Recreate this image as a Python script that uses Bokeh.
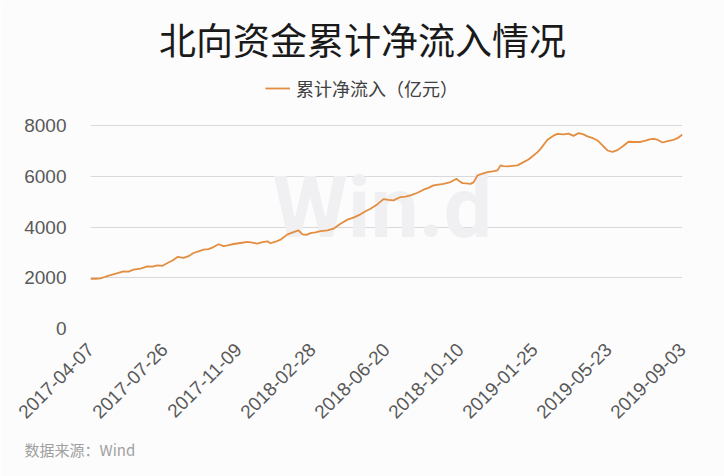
import math
from bokeh.plotting import figure
from bokeh.models import FixedTicker, Label, Legend, LegendItem, ColumnDataSource, Range1d, Title
from bokeh.embed import file_html
from bokeh.resources import INLINE

# ---------------- data ----------------
title_text = "北向资金累计净流入情况"
series_name = "累计净流入（亿元）"
source_text = "数据来源：Wind"

tick_labels = ["2017-04-07", "2017-07-26", "2017-11-09", "2018-02-28", "2018-06-20",
               "2018-10-10", "2019-01-25", "2019-05-23", "2019-09-03"]
tick_step = 74  # trading days between labelled dates

y_ticks = [0, 2000, 4000, 6000, 8000]

# trading-day index since 2017-04-07 and cumulative net inflow (100m CNY)
day_index = [0, 5, 10, 15, 20, 27, 33, 38, 43, 50, 57, 62, 67, 72, 77, 82, 87, 93, 98,
             103, 108, 113, 118, 123, 128, 133, 137, 143, 150, 157, 162, 167, 172, 177,
             180, 185, 190, 197, 203, 208, 212, 216, 220, 225, 230, 237, 243, 250, 257,
             263, 270, 275, 280, 287, 293, 298, 303, 310, 315, 320, 327, 333, 338, 343,
             348, 353, 360, 366, 369, 372, 376, 380, 383, 387, 392, 397, 402, 407, 410,
             413, 417, 422, 427, 433, 438, 443, 447, 450, 457, 463, 467, 473, 478, 483,
             488, 493, 497, 503, 507, 512, 517, 522, 527, 533, 538, 543, 550, 555, 560,
             563, 567, 572, 577, 582, 587, 592]
net_inflow = [1960, 1960, 1975, 2040, 2100, 2180, 2255, 2240, 2320, 2360, 2450, 2440, 2490,
              2470, 2580, 2680, 2820, 2780, 2850, 2975, 3040, 3110, 3130, 3210, 3320, 3250,
              3280, 3330, 3370, 3410, 3380, 3345, 3400, 3435, 3360, 3420, 3500, 3710, 3800,
              3870, 3710, 3690, 3760, 3790, 3840, 3870, 3935, 4130, 4290, 4370, 4500, 4620,
              4720, 4900, 5100, 5070, 5050, 5180, 5200, 5245, 5350, 5470, 5540, 5640, 5670,
              5700, 5770, 5900, 5800, 5730, 5720, 5700, 5760, 6030, 6100, 6160, 6190, 6230,
              6430, 6400, 6390, 6410, 6430, 6555, 6660, 6820, 6950, 7080, 7440, 7600, 7670,
              7650, 7680, 7590, 7700, 7650, 7570, 7490, 7410, 7220, 7015, 6960, 7030, 7200,
              7360, 7350, 7350, 7400, 7460, 7470, 7440, 7330, 7380, 7420, 7500, 7645]

# ---------------- layout (pixels) ----------------
CJK = "Noto Sans CJK SC"
LAT = "Liberation Sans"
BG = "#fcfcfd"
W, H = 724, 476
LEFT, RIGHT = 90, 682          # plot area x extent
TOP_GRID, ZERO_Y = 125, 328    # pixel rows of top tick and of zero

n_ticks = len(tick_labels)
tick_pos = [i * tick_step for i in range(n_ticks)]
# frame extends to the canvas top so header texts sit inside it
y_top = y_ticks[-1] * ZERO_Y / (ZERO_Y - TOP_GRID)

p = figure(width=W, height=H, output_backend="svg", toolbar_location=None, title=None,
           x_range=Range1d(tick_pos[0], tick_pos[-1]), y_range=Range1d(y_ticks[0], y_top),
           min_border_left=LEFT, min_border_right=W - RIGHT, min_border_top=0,
           min_border_bottom=H - ZERO_Y)
p.background_fill_color = BG
p.border_fill_color = BG
p.outline_line_color = None

# watermark
p.add_layout(Label(x=182, y=71, x_units="screen", y_units="screen", text="Win.d",
                   text_font="Roboto", text_font_style="bold",
                   text_font_size="86px", text_color="#f0f0f3", text_baseline="bottom",
                   text_align="left", level="underlay"))

src = ColumnDataSource(dict(x=day_index, y=net_inflow))
r = p.line("x", "y", source=src, line_color="#e38d3f", line_width=1.8)

# axes
p.xaxis.ticker = FixedTicker(ticks=tick_pos)
p.xaxis.major_label_overrides = {pos: lab for pos, lab in zip(tick_pos, tick_labels)}
p.xaxis.major_label_orientation = math.pi / 4
p.yaxis.ticker = FixedTicker(ticks=y_ticks)
for ax in (p.xaxis, p.yaxis):
    ax.axis_line_color = None
    ax.major_tick_line_color = None
    ax.minor_tick_line_color = None
    ax.major_tick_out = 0
    ax.major_tick_in = 0
    ax.major_label_text_font = LAT
    ax.major_label_text_font_size = "19px"
    ax.major_label_text_color = "#595959"
p.xaxis.major_label_standoff = 18
p.yaxis.major_label_standoff = 24
p.xgrid.visible = False
p.ygrid.grid_line_color = "#d9d9d9"
p.ygrid.grid_line_width = 1

# title
p.add_layout(Label(x=362 - LEFT, y=ZERO_Y - 38, x_units="screen", y_units="screen",
                   text=title_text, text_font=CJK, text_font_size="37px",
                   text_color="#1a1a1a", text_align="center", text_baseline="middle"))

# legend
legend = Legend(items=[LegendItem(label=series_name, renderers=[r])],
                location=(265 - LEFT, ZERO_Y - 101),
                orientation="horizontal", background_fill_alpha=0, border_line_color=None,
                label_text_font=CJK, label_text_font_size="18px", label_text_color="#404040",
                glyph_width=25, glyph_height=22, label_height=22, label_standoff=6,
                padding=0, margin=0, spacing=0)
p.add_layout(legend)

# source note
p.add_layout(Title(text=source_text, text_font=CJK, text_font_size="15px",
                   text_font_style="normal", text_color="#a0a0a0", align="left",
                   offset=24 - LEFT, standoff=19), "below")

open("out.html", "w").write(file_html(p, INLINE))
